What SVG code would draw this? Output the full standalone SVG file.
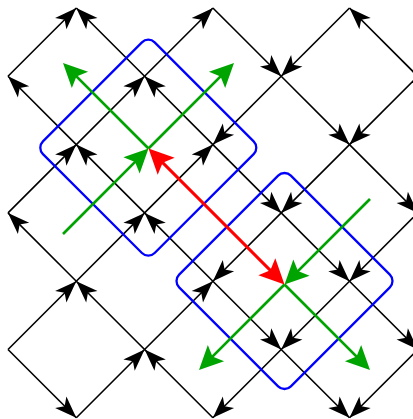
<svg xmlns="http://www.w3.org/2000/svg" width="413" height="419" viewBox="0 0 413 419">
<style>
.k{stroke:#000;stroke-width:1.6;fill:none;marker-end:url(#ab)}
.b{stroke:#0000ff;stroke-width:2.3;fill:none}
.g{stroke:#00a400;stroke-width:2.7;fill:none;marker-end:url(#ag)}
.r{stroke:#ff0000;stroke-width:3;fill:none;marker-end:url(#ar);marker-start:url(#ar)}
</style>
<defs>
<marker id="ab" markerUnits="userSpaceOnUse" markerWidth="40" markerHeight="40" viewBox="-30 -20 40 40" refX="0" refY="0" orient="auto" overflow="visible">
<path d="M0,0 L-22,-8 L-16.5,0 L-22,8 Z" fill="#000"/>
</marker>
<marker id="ag" markerUnits="userSpaceOnUse" markerWidth="40" markerHeight="40" viewBox="-30 -20 40 40" refX="0" refY="0" orient="auto" overflow="visible">
<path d="M8,0 L-16,-11.5 L-11,0 L-16,11.5 Z" fill="#00a400"/>
</marker>
<marker id="ar" markerUnits="userSpaceOnUse" markerWidth="40" markerHeight="40" viewBox="-30 -20 40 40" refX="0" refY="0" orient="auto-start-reverse" overflow="visible">
<path d="M8,0 L-17,-12 L-12,0 L-17,12 Z" fill="#ff0000"/>
</marker>
</defs>
<rect width="413" height="419" fill="#fff"/>
<g id="lattice">
<line class="k" x1="8" y1="76.3" x2="76.3" y2="8"/>
<line class="k" x1="144.6" y1="76.3" x2="76.3" y2="8"/>
<line class="k" x1="144.6" y1="76.3" x2="212.9" y2="8"/>
<line class="k" x1="212.9" y1="8" x2="281.2" y2="76.3"/>
<line class="k" x1="349.5" y1="8" x2="281.2" y2="76.3"/>
<line class="k" x1="417.8" y1="76.3" x2="349.5" y2="8"/>
<line class="k" x1="76.3" y1="144.6" x2="8" y2="76.3"/>
<line class="k" x1="76.3" y1="144.6" x2="144.6" y2="76.3"/>
<line class="k" x1="212.9" y1="144.6" x2="144.6" y2="76.3"/>
<line class="k" x1="281.2" y1="76.3" x2="212.9" y2="144.6"/>
<line class="k" x1="281.2" y1="76.3" x2="349.5" y2="144.6"/>
<line class="k" x1="417.8" y1="76.3" x2="349.5" y2="144.6"/>
<line class="k" x1="8" y1="212.9" x2="76.3" y2="144.6"/>
<line class="k" x1="144.6" y1="212.9" x2="76.3" y2="144.6"/>
<line class="k" x1="144.6" y1="212.9" x2="212.9" y2="144.6"/>
<line class="k" x1="212.9" y1="144.6" x2="281.2" y2="212.9"/>
<line class="k" x1="349.5" y1="144.6" x2="281.2" y2="212.9"/>
<line class="k" x1="349.5" y1="144.6" x2="417.8" y2="212.9"/>
<line class="k" x1="76.3" y1="281.2" x2="8" y2="212.9"/>
<line class="k" x1="76.3" y1="281.2" x2="144.6" y2="212.9"/>
<line class="k" x1="212.9" y1="281.2" x2="144.6" y2="212.9"/>
<line class="k" x1="281.2" y1="212.9" x2="212.9" y2="281.2"/>
<line class="k" x1="281.2" y1="212.9" x2="349.5" y2="281.2"/>
<line class="k" x1="417.8" y1="212.9" x2="349.5" y2="281.2"/>
<line class="k" x1="8" y1="349.5" x2="76.3" y2="281.2"/>
<line class="k" x1="144.6" y1="349.5" x2="76.3" y2="281.2"/>
<line class="k" x1="144.6" y1="349.5" x2="212.9" y2="281.2"/>
<line class="k" x1="212.9" y1="281.2" x2="281.2" y2="349.5"/>
<line class="k" x1="349.5" y1="281.2" x2="281.2" y2="349.5"/>
<line class="k" x1="349.5" y1="281.2" x2="417.8" y2="349.5"/>
<line class="k" x1="8" y1="349.5" x2="76.3" y2="417.8"/>
<line class="k" x1="76.3" y1="417.8" x2="144.6" y2="349.5"/>
<line class="k" x1="212.9" y1="417.8" x2="144.6" y2="349.5"/>
<line class="k" x1="281.2" y1="349.5" x2="212.9" y2="417.8"/>
<line class="k" x1="281.2" y1="349.5" x2="349.5" y2="417.8"/>
<line class="k" x1="417.8" y1="349.5" x2="349.5" y2="417.8"/>
</g>
<g id="box1"><rect class="b" x="-79" y="-79" width="158" height="158" rx="9" transform="translate(148.3 147.7) rotate(45)"/></g>
<g id="box2"><rect class="b" x="-79" y="-79" width="158" height="158" rx="9" transform="translate(284.5 281) rotate(45)"/></g>
<g id="vectors">
<line class="g" x1="63" y1="234" x2="142.84" y2="154.16"/>
<line class="g" x1="148.5" y1="148.5" x2="228.34" y2="68.66"/>
<line class="g" x1="148.5" y1="148.5" x2="68.66" y2="68.66"/>
<line class="g" x1="370" y1="199" x2="290.16" y2="278.84"/>
<line class="g" x1="284.5" y1="284.5" x2="204.66" y2="364.34"/>
<line class="g" x1="284.5" y1="284.5" x2="364.34" y2="364.34"/>
<line class="r" x1="154.16" y1="154.16" x2="278.84" y2="278.84"/>
</g>
</svg>
